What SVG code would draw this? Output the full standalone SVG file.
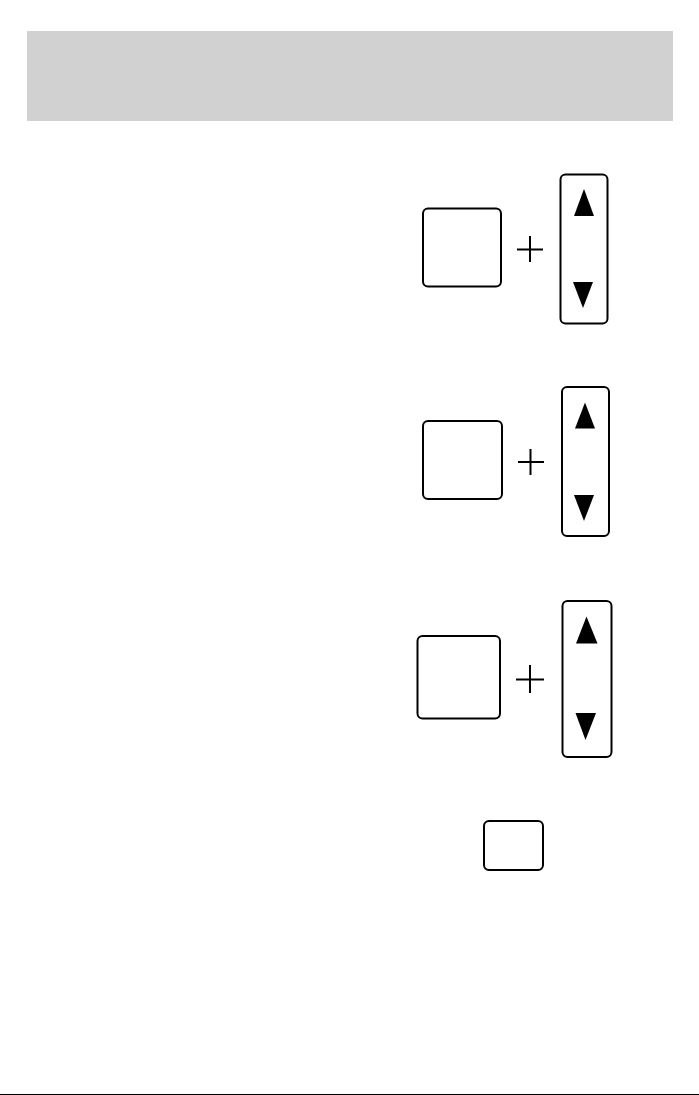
<svg xmlns="http://www.w3.org/2000/svg" width="699" height="1095" viewBox="0 0 699 1095">
<style>
.btn{fill:#fff;stroke:#000;stroke-width:2}
.plus{stroke:#000;stroke-width:2;fill:none}
.tri{fill:#000}
</style>
<rect x="0" y="0" width="699" height="1095" fill="#fff"/>
<rect id="header" x="27" y="31" width="646" height="90" fill="#d1d1d1"/>
<g id="row1">
<rect class="btn" x="423" y="208.5" width="78" height="78" rx="5"/>
<path class="plus" d="M517 249.5H543M530 236V262"/>
<rect class="btn" x="560.5" y="174.5" width="47" height="149" rx="5"/>
<polygon class="tri" points="584,189 594,216 574,216"/>
<polygon class="tri" points="573,282 593,282 583,308"/>
</g>
<g id="row2">
<rect class="btn" x="423" y="421" width="79" height="78" rx="5"/>
<path class="plus" d="M518 462H544M530.5 449V475"/>
<rect class="btn" x="562" y="387" width="47" height="149" rx="5"/>
<polygon class="tri" points="585,402.5 595,428.5 575,428.5"/>
<polygon class="tri" points="574,495 594,495 584,521"/>
</g>
<g id="row3">
<rect class="btn" x="417.5" y="636" width="82.5" height="82.5" rx="5"/>
<path class="plus" d="M516 679.5H544M530 665V693"/>
<rect class="btn" x="562.5" y="601" width="49" height="156" rx="5"/>
<polygon class="tri" points="586.5,616.5 597.5,643.5 576,643.5"/>
<polygon class="tri" points="575.5,713 596,713 585.5,740"/>
</g>
<g id="row4">
<rect class="btn" x="484" y="821" width="59" height="49" rx="5"/>
</g>
<line x1="0" y1="1094.5" x2="699" y2="1094.5" stroke="#000" stroke-width="1"/>
</svg>
